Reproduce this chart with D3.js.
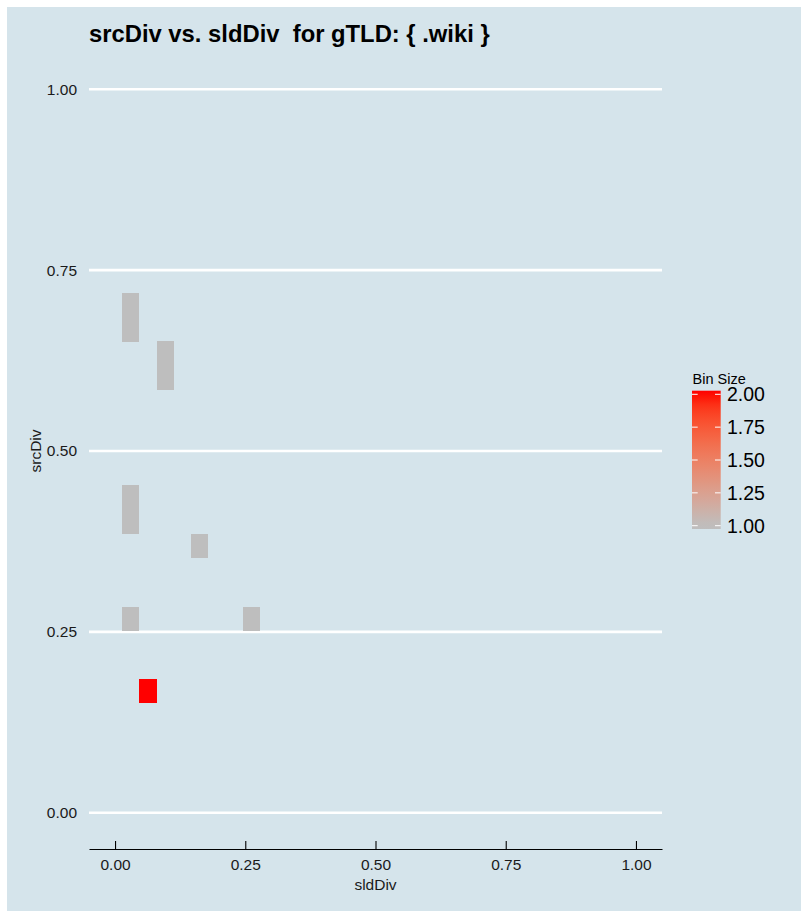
<!DOCTYPE html>
<html>
<head>
<meta charset="utf-8">
<script src="https://cdn.jsdelivr.net/npm/d3@7"></script>
<style>
  html, body { margin: 0; padding: 0; background: #ffffff; }
  svg { display: block; font-family: "Liberation Sans", Arial, Helvetica, sans-serif; }
</style>
</head>
<body>
<svg id="chart" width="801" height="911"></svg>
<script>
// ---- data ----
const titleText = "srcDiv vs. sldDiv  for gTLD: { .wiki }";
const xTitle = "sldDiv";
const yTitle = "srcDiv";
const legendTitle = "Bin Size";
const xTicks = [0, 0.25, 0.5, 0.75, 1];
const yTicks = [0, 0.25, 0.5, 0.75, 1];
const legendTicks = [1, 1.25, 1.5, 1.75, 2];
// 2d bins: centre x, centre y, count
const binX = [0.030, 0.030, 0.0962, 0.0962, 0.030, 0.030, 0.1626, 0.030, 0.2620, 0.0631];
const binY = [0.7011, 0.6677, 0.6348, 0.6013, 0.4356, 0.4021, 0.3689, 0.2680, 0.2680, 0.1685];
const binCount = [1, 1, 1, 1, 1, 1, 1, 1, 1, 2];
const binW = 0.0332;
const binH = 0.03346;

// ---- layout ----
const svg = d3.select("#chart");
const W = 801, H = 911;
const panel = { left: 89, right: 662, top: 53, bottom: 849 };
const bg = "#d5e4eb";

svg.append("rect").attr("x", 0).attr("y", 0).attr("width", W).attr("height", H).attr("fill", "#ffffff");
svg.append("rect").attr("x", 7).attr("y", 7).attr("width", W - 7).attr("height", H - 7).attr("fill", bg);

const x = d3.scaleLinear().domain([-0.05, 1.05]).range([panel.left, panel.right]);
const y = d3.scaleLinear().domain([-0.05, 1.05]).range([panel.bottom, panel.top]);
const color = d3.scaleLinear().domain([1, 2]).range(["#bebebe", "#ff0000"]).interpolate(d3.interpolateLab).clamp(true);

// grid lines
svg.append("g").selectAll("line").data(yTicks).join("line")
  .attr("x1", panel.left).attr("x2", panel.right)
  .attr("y1", d => y(d)).attr("y2", d => y(d))
  .attr("stroke", "#ffffff").attr("stroke-width", 2.6);

// tiles
const bins = binX.map((d, i) => ({ x: d, y: binY[i], n: binCount[i] }));
svg.append("g").attr("shape-rendering", "crispEdges").selectAll("rect").data(bins).join("rect")
  .attr("x", d => x(d.x - binW / 2))
  .attr("width", d => x(d.x + binW / 2) - x(d.x - binW / 2))
  .attr("y", d => y(d.y + binH / 2))
  .attr("height", d => y(d.y - binH / 2) - y(d.y + binH / 2))
  .attr("fill", d => color(d.n));

// y axis labels
const fmt = d3.format(".2f");
const yAxis = d3.axisLeft(y).tickValues(yTicks).tickFormat(fmt).tickSize(0).tickPadding(0);
const gy = svg.append("g").attr("transform", `translate(${panel.left - 12},0)`).call(yAxis);
gy.select(".domain").remove();
gy.selectAll("text").attr("font-size", 15.5).attr("fill", "#1a1a1a")
  .attr("font-family", "Liberation Sans, Arial, sans-serif");

// x axis
const xAxis = d3.axisBottom(x).tickValues(xTicks).tickFormat(fmt).tickSizeInner(-8).tickSizeOuter(0).tickPadding(10);
const gx = svg.append("g").attr("transform", `translate(0,${panel.bottom})`).call(xAxis);
gx.select(".domain").attr("stroke", "#000000").attr("stroke-width", 1.1);
gx.selectAll(".tick line").attr("stroke", "#000000").attr("stroke-width", 1.1);
gx.selectAll("text").attr("font-size", 15.5).attr("fill", "#1a1a1a")
  .attr("font-family", "Liberation Sans, Arial, sans-serif");

// axis titles
svg.append("text").attr("x", (panel.left + panel.right) / 2).attr("y", 890)
  .attr("text-anchor", "middle").attr("font-size", 15.5).attr("fill", "#1a1a1a").text(xTitle);
svg.append("text").attr("transform", `translate(41,${(y(0) + y(1)) / 2}) rotate(-90)`)
  .attr("text-anchor", "middle").attr("font-size", 15.5).attr("fill", "#1a1a1a").text(yTitle);

// title
svg.append("text").attr("x", 89).attr("y", 42).attr("font-size", 23.8).attr("font-weight", "bold")
  .attr("fill", "#000000").style("white-space", "pre").attr("xml:space", "preserve").text(titleText);

// legend
const lg = { x: 692, w: 28.7, top: 390.7, bottom: 529 };
const ly = d3.scaleLinear().domain([1, 2]).range([525.7, 394.3]);
const defs = svg.append("defs");
const grad = defs.append("linearGradient").attr("id", "lgGrad")
  .attr("x1", 0).attr("y1", 1).attr("x2", 0).attr("y2", 0);
d3.range(0, 1.0001, 0.05).forEach(t => {
  const yy = lg.bottom - t * (lg.bottom - lg.top);
  grad.append("stop").attr("offset", t).attr("stop-color", color(ly.invert(yy)));
});
svg.append("rect").attr("x", lg.x).attr("y", lg.top).attr("width", lg.w).attr("height", lg.bottom - lg.top)
  .attr("fill", "url(#lgGrad)");
const lt = svg.append("g");
lt.selectAll("line.l").data(legendTicks).join("line").attr("class", "l")
  .attr("x1", lg.x).attr("x2", lg.x + 5.7).attr("y1", d => ly(d)).attr("y2", d => ly(d))
  .attr("stroke", "#ffffff").attr("stroke-width", 1);
lt.selectAll("line.r").data(legendTicks).join("line").attr("class", "r")
  .attr("x1", lg.x + lg.w - 5.7).attr("x2", lg.x + lg.w).attr("y1", d => ly(d)).attr("y2", d => ly(d))
  .attr("stroke", "#ffffff").attr("stroke-width", 1);
lt.selectAll("text").data(legendTicks).join("text")
  .attr("x", 727).attr("y", d => ly(d)).attr("dy", "0.36em")
  .attr("font-size", 19.5).attr("fill", "#000000").text(d => fmt(d));
svg.append("text").attr("x", 692.5).attr("y", 384).attr("font-size", 14.5).attr("fill", "#000000").text(legendTitle);
</script>
</body>
</html>
